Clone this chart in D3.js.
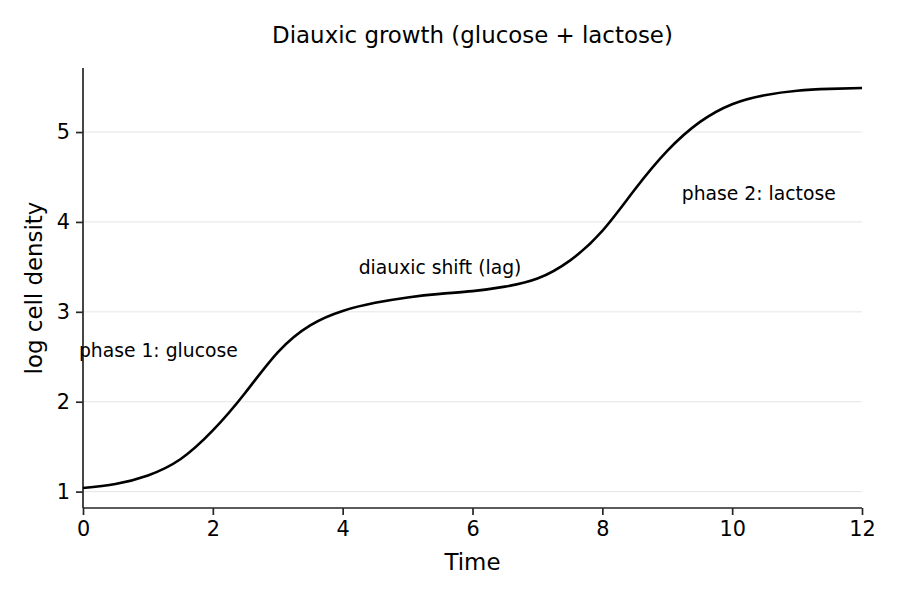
<!DOCTYPE html>
<html>
<head>
<meta charset="utf-8">
<script src="https://cdn.jsdelivr.net/npm/d3@7"></script>
<style>
  body { margin: 0; background: white; }
  text { font-family: "DejaVu Sans", sans-serif; fill: #000; }
</style>
</head>
<body>
<div id="chart"></div>
<script>
// values
var times   = [0, 0.5, 1, 1.5, 2, 2.5, 3, 3.5, 4, 4.5, 5, 5.5, 6, 6.5, 7, 7.5, 8, 8.5, 9, 9.5, 10, 10.5, 11, 11.5, 12];
var density = [1.04, 1.085, 1.18, 1.36, 1.68, 2.10, 2.55, 2.85, 3.01, 3.10, 3.16, 3.20, 3.23, 3.28, 3.37, 3.57, 3.90, 4.36, 4.79, 5.11, 5.31, 5.41, 5.46, 5.48, 5.49];

var xTicks = [0, 2, 4, 6, 8, 10, 12];
var yTicks = [1, 2, 3, 4, 5];

var noteText = ["phase 1: glucose", "diauxic shift (lag)", "phase 2: lactose"];
var noteX    = [1.16, 5.5, 10.41];
var noteY    = [2.57, 3.49, 4.32];

var width = 900, height = 600;
var margin = {top: 68, right: 38, bottom: 92, left: 83};
var innerW = width - margin.left - margin.right;
var innerH = height - margin.top - margin.bottom;

var svg = d3.select("#chart").append("svg")
    .attr("width", width)
    .attr("height", height);

svg.append("rect").attr("width", width).attr("height", height).attr("fill", "white");

var g = svg.append("g")
    .attr("transform", "translate(" + margin.left + "," + margin.top + ")");

var yMin = d3.min(density), yMax = d3.max(density);
var pad = (yMax - yMin) * 0.05;

var x = d3.scaleLinear().domain([0, 12]).range([0, innerW]);
var y = d3.scaleLinear().domain([yMin - pad, yMax + pad]).range([innerH, 0]);

// grid
g.append("g")
  .selectAll("line")
  .data(yTicks)
  .enter()
  .append("line")
    .attr("x1", 0)
    .attr("x2", innerW)
    .attr("y1", function(d) { return y(d); })
    .attr("y2", function(d) { return y(d); })
    .attr("stroke", "#e6e6e6")
    .attr("stroke-width", 1);

// axes
var xAxis = g.append("g")
    .attr("transform", "translate(0," + innerH + ")")
    .call(d3.axisBottom(x).tickValues(xTicks).tickSize(7).tickPadding(6).tickFormat(d3.format("d")));

var yAxis = g.append("g")
    .call(d3.axisLeft(y).tickValues(yTicks).tickSize(7).tickPadding(6).tickFormat(d3.format("d")));

[xAxis, yAxis].forEach(function(a) {
  a.select(".domain").attr("stroke", "#262626").attr("stroke-width", 1.7);
  a.selectAll(".tick line").attr("stroke", "#262626").attr("stroke-width", 1.7);
  a.selectAll(".tick text")
    .attr("font-family", "DejaVu Sans")
    .attr("font-size", 20.8)
    .attr("fill", "#000");
});
xAxis.select(".domain").attr("d", "M0,0H" + innerW);
yAxis.select(".domain").attr("d", "M0," + innerH + "V0");

// curve
var line = d3.line()
    .x(function(d, i) { return x(times[i]); })
    .y(function(d) { return y(d); })
    .curve(d3.curveNatural);

g.append("path")
    .datum(density)
    .attr("fill", "none")
    .attr("stroke", "#000")
    .attr("stroke-width", 2.6)
    .attr("stroke-linejoin", "round")
    .attr("d", line);

// notes
g.append("g")
  .selectAll("text")
  .data(noteText)
  .enter()
  .append("text")
    .attr("x", function(d, i) { return x(noteX[i]); })
    .attr("y", function(d, i) { return y(noteY[i]); })
    .attr("text-anchor", "middle")
    .attr("dominant-baseline", "central")
    .attr("font-size", 18.75)
    .text(function(d) { return d; });

// titles
svg.append("text")
    .attr("x", margin.left + innerW / 2)
    .attr("y", 43)
    .attr("text-anchor", "middle")
    .attr("font-size", 22.9)
    .text("Diauxic growth (glucose + lactose)");

svg.append("text")
    .attr("x", margin.left + innerW / 2)
    .attr("y", 570)
    .attr("text-anchor", "middle")
    .attr("font-size", 22.9)
    .text("Time");

svg.append("text")
    .attr("transform", "translate(42," + (margin.top + innerH / 2) + ") rotate(-90)")
    .attr("text-anchor", "middle")
    .attr("font-size", 22.9)
    .text("log cell density");
</script>
</body>
</html>
